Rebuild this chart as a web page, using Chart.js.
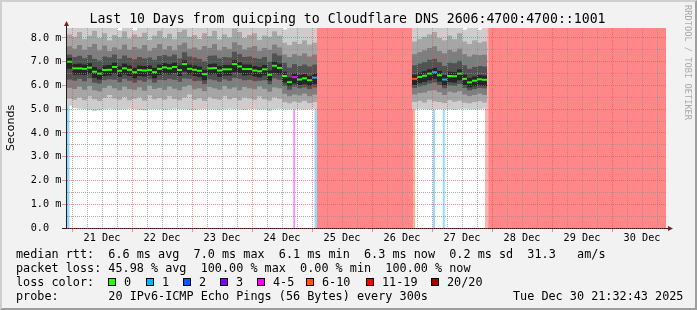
<!DOCTYPE html>
<html><head><meta charset="utf-8">
<script src="https://cdn.jsdelivr.net/npm/chart.js@4"></script>
<style>
html,body{margin:0;padding:0;background:#f2f2f2;}
#wrap{position:relative;width:697px;height:310px;overflow:hidden;background:#f2f2f2;font-family:'DejaVu Sans Mono',monospace;}
#c{position:absolute;left:0;top:0;}
.frame{position:absolute;left:0;top:0;width:697px;height:310px;box-sizing:border-box;border-style:solid;border-width:2px;border-color:#cfcfcf #9e9e9e #9e9e9e #cfcfcf;pointer-events:none;}
.row{position:absolute;font-size:11.8px;line-height:14px;white-space:pre;color:#000;}
.box{position:absolute;width:8px;height:8px;box-sizing:border-box;border:1px solid #000;}
.vt{position:absolute;left:683px;top:5px;writing-mode:vertical-rl;font-size:8.7px;line-height:10px;color:#aaaaaa;white-space:pre;}
#title{position:absolute;left:-1px;top:11px;width:697px;text-align:center;font-size:13.2px;line-height:16px;color:#000;white-space:pre;}
</style></head>
<body>
<div id="wrap">
<canvas id="c" width="697" height="310"></canvas>
<div class="frame"></div>
<div id="title"></div>
<div class="vt">RRDTOOL / TOBI OETIKER</div>
<div id="legend"></div>
</div>
<script>
// ---------- data ----------
const titleText = 'Last 10 Days from quicping to Cloudflare DNS 2606:4700:4700::1001';
const dayLabels = ['21 Dec','22 Dec','23 Dec','24 Dec','25 Dec','26 Dec','27 Dec','28 Dec','29 Dec','30 Dec'];
const yGridValues = [0,0.5,1,1.5,2,2.5,3,3.5,4,4.5,5,5.5,6,6.5,7,7.5,8];
const yTickLabels = ['0.0  ','1.0 m','2.0 m','3.0 m','4.0 m','5.0 m','6.0 m','7.0 m','8.0 m'];

// hours since 21 Dec 00:00 (centre of each 2h sample)
const hours = [-1,1,3,5,7,9,11,13,15,17,19,21,23,25,27,29,31,33,35,37,39,41,43,45,47,49,51,53,55,57,59,61,63,65,67,69,71,73,75,77,79,81,83,85,87,89,91,93,95,97,
               137,139,141,143,145,147,149,151,153,155,157,159,161,163,165];
// median rtt (ms)
const median = [7.00,6.72,6.72,6.70,6.75,6.58,6.50,6.65,6.66,6.78, 6.62,6.72,6.66,6.56,6.65,6.63,6.65,6.56,6.70,6.76,
                6.72,6.78,6.65,6.90,6.70,6.66,6.62,6.48,6.72,6.73, 6.63,6.68,6.68,6.90,6.80,6.69,6.69,6.63,6.60,6.68,
                6.45,6.83,6.74,6.40,6.14,6.35,6.25,6.30,6.22,6.33,
                6.28,6.36,6.41,6.50,6.56,6.43,6.25,6.40,6.39,6.50,6.28,6.13,6.20,6.26,6.24];
// packets lost (of 20) at each median sample
const medianLoss = [0,0,0,0,0,0,0,0,0,0, 0,0,0,0,0,0,0,0,0,0, 0,0,0,0,0,0,0,0,0,0, 0,0,0,0,0,0,0,0,0,0,
                    0,0,0,0,0,4,0,0,0,1,
                    6,0,0,0,1,0,1,0,0,0,0,0,0,0,0];
// smoke (ping distribution) bands, ms
const smokeMin = [5.15,5.05,5.02,5.00,4.98,4.93,4.96,5.00,5.02,5.00, 4.98,5.00,5.02,5.00,4.97,4.95,5.00,5.01,5.00,4.98,
                  5.00,5.02,5.00,5.00,4.98,4.96,5.00,5.01,5.00,5.00, 4.98,5.00,5.02,5.00,5.00,4.97,5.00,5.01,4.99,5.00,
                  4.94,5.00,5.02,5.00,5.00,5.01,5.00,4.98,5.00,5.02,
                  5.00,5.02,5.00,4.98,5.00,5.01,5.00,5.00,4.97,5.00,5.02,5.00,4.99,5.00,5.03];
const smokeMax = [8.7,8.7,8.7,8.6,8.7,8.7,8.7,8.7,8.7,8.7, 8.32,8.7,8.7,8.32,8.7,8.7,8.7,8.7,8.7,8.7,
                  8.7,8.7,8.7,8.7,8.7,8.7,8.7,8.7,8.7,8.7, 8.7,8.7,8.7,8.7,8.7,8.7,8.7,8.7,8.7,8.7,
                  8.7,8.7,8.7,8.36,8.7,8.7,8.7,8.7,8.7,8.7,
                  8.7,8.7,8.7,8.7,8.7,8.7,8.7,8.7,8.7,8.7,8.35,8.7,8.7,8.35,8.7];
const band2Lo = [5.45,5.40,5.50,5.38,5.55,5.42,5.35,5.48,5.60,5.45, 5.40,5.52,5.38,5.44,5.50,5.36,5.58,5.42,5.47,5.40,
                 5.55,5.43,5.38,5.50,5.62,5.40,5.46,5.35,5.52,5.44, 5.40,5.56,5.42,5.48,5.38,5.50,5.45,5.40,5.54,5.42,
                 5.36,5.50,5.44,5.30,5.25,5.32,5.28,5.35,5.26,5.30,
                 5.30,5.35,5.28,5.40,5.33,5.30,5.26,5.38,5.32,5.36,5.28,5.25,5.30,5.34,5.28];
const band2Hi = [8.15,8.05,8.25,7.95,8.10,8.30,8.00,8.20,7.90,8.12, 8.02,8.28,7.98,8.15,8.05,8.22,7.92,8.10,8.30,8.00,
                 8.18,7.95,8.25,8.35,8.05,8.12,7.96,8.20,8.08,8.30, 7.94,8.15,8.02,8.40,8.25,8.00,8.12,8.20,7.92,8.10,
                 8.05,8.28,8.10,7.80,7.70,7.85,7.75,7.90,7.72,7.80,
                 7.85,7.95,8.05,8.15,8.25,8.00,7.90,8.10,7.95,8.20,7.85,7.75,7.90,7.80,7.85];
const band3Lo = [5.90,5.85,5.95,5.82,5.98,5.80,5.75,5.90,6.00,5.88, 5.80,5.95,5.85,5.82,5.92,5.78,6.00,5.85,5.90,5.82,
                 5.96,5.86,5.80,5.95,6.02,5.84,5.88,5.76,5.94,5.88, 5.82,5.98,5.86,5.92,5.80,5.94,5.88,5.84,5.96,5.86,
                 5.74,5.92,5.88,5.65,5.55,5.62,5.58,5.66,5.55,5.62,
                 5.62,5.68,5.70,5.78,5.80,5.72,5.60,5.74,5.70,5.76,5.62,5.55,5.60,5.66,5.60];
const band3Hi = [7.65,7.55,7.70,7.50,7.62,7.75,7.48,7.68,7.45,7.60, 7.52,7.72,7.50,7.62,7.55,7.70,7.46,7.58,7.74,7.52,
                 7.66,7.48,7.70,7.80,7.55,7.60,7.50,7.66,7.58,7.74, 7.48,7.62,7.54,7.82,7.70,7.52,7.60,7.66,7.46,7.58,
                 7.50,7.72,7.60,7.30,7.20,7.32,7.25,7.35,7.22,7.30,
                 7.32,7.40,7.48,7.58,7.65,7.45,7.35,7.50,7.42,7.55,7.32,7.22,7.30,7.28,7.30];
const band4Lo = [6.25,6.20,6.28,6.18,6.30,6.12,6.08,6.22,6.26,6.24, 6.14,6.28,6.20,6.12,6.22,6.16,6.26,6.12,6.24,6.22,
                 6.28,6.24,6.16,6.30,6.28,6.18,6.20,6.06,6.26,6.22, 6.16,6.26,6.20,6.32,6.28,6.22,6.24,6.18,6.20,6.22,
                 6.05,6.30,6.24,5.98,5.82,5.95,5.88,5.92,5.85,5.92,
                 5.90,5.96,6.00,6.08,6.12,6.02,5.88,6.00,5.98,6.06,5.90,5.80,5.85,5.90,5.88];
const band4Hi = [7.30,7.20,7.25,7.15,7.28,7.12,7.05,7.22,7.18,7.30, 7.12,7.26,7.16,7.10,7.20,7.14,7.18,7.08,7.24,7.28,
                 7.22,7.30,7.14,7.40,7.22,7.18,7.12,7.02,7.25,7.26, 7.14,7.20,7.18,7.42,7.32,7.20,7.22,7.16,7.12,7.20,
                 7.00,7.35,7.26,6.95,6.75,6.90,6.82,6.88,6.80,6.88,
                 6.85,6.92,6.98,7.08,7.12,6.98,6.82,6.96,6.94,7.04,6.85,6.70,6.78,6.82,6.80];
const band5Lo = [6.70,6.45,6.46,6.44,6.48,6.32,6.25,6.40,6.42,6.50, 6.36,6.46,6.40,6.30,6.40,6.38,6.42,6.30,6.44,6.50,
                 6.46,6.52,6.40,6.58,6.46,6.40,6.36,6.22,6.46,6.48, 6.36,6.42,6.42,6.55,6.52,6.42,6.44,6.38,6.34,6.42,
                 6.20,6.52,6.46,6.12,5.98,6.08,6.02,6.05,5.98,6.06,
                 6.02,6.10,6.15,6.22,6.28,6.16,6.00,6.14,6.12,6.22,6.02,5.92,5.96,6.00,5.98];
const band5Hi = [7.16,6.90,6.92,6.88,6.94,6.78,6.68,6.84,6.86,6.96, 6.80,6.92,6.84,6.74,6.84,6.82,6.84,6.74,6.88,6.94,
                 6.90,6.96,6.84,7.06,6.88,6.84,6.80,6.66,6.90,6.92, 6.82,6.86,6.86,7.06,6.98,6.88,6.88,6.82,6.78,6.86,
                 6.64,7.00,6.92,6.58,6.34,6.52,6.44,6.48,6.40,6.50,
                 6.46,6.54,6.60,6.68,6.74,6.62,6.44,6.58,6.56,6.68,6.46,6.32,6.38,6.44,6.42];
// packet-loss periods (hours) and loss level
const lossStart = [-2, 88.5, 97, 98,    136.5, 144.3, 148.3, 165.2, 166.5];
const lossEnd   = [-1, 89.2, 98, 136.5, 137.2, 145.2, 149.1, 166.5, 237.6];
const lossLevel = [1,  4,    1,  20,    6,     1,     1,     11,    20];
// legend
const lossLabels = ['0','1','2','3','4-5','6-10','11-19','20/20'];
const lossKeys   = [0,1,2,3,4,6,11,20];
const legendRows = [
  'median rtt:  6.6 ms avg  7.0 ms max  6.1 ms min  6.3 ms now  0.2 ms sd  31.3   am/s',
  'packet loss: 45.98 % avg  100.00 % max  0.00 % min  100.00 % now',
  'loss color:',
  'probe:       20 IPv6-ICMP Echo Pings (56 Bytes) every 300s'
];
const stampText = 'Tue Dec 30 21:32:43 2025';

// ---------- styles ----------
const lossColor = {0:'#26ff00',1:'#00b8ff',2:'#0059ff',3:'#7e00ff',4:'#ff00ff',6:'#ff5500',11:'#ff0000',20:'#a10000'};
const lossFill  = {1:'rgba(0,184,255,0.45)',4:'rgba(255,0,255,0.45)',6:'rgba(255,85,0,0.45)',11:'rgba(255,0,0,0.3)',20:'rgba(255,0,0,0.47)'};
const smokeColors = ['#cdcdcd','#a6a6a6','#7e7e7e','#525252','#262626'];
const MAJOR = 'rgba(222,79,79,0.6)', MINOR = 'rgba(143,143,143,0.75)', CLEAR = 'rgba(0,0,0,0)';
const MONO = "'DejaVu Sans Mono', monospace";
const medHalf = 0.042;

// ---------- html text ----------
document.getElementById('title').textContent = titleText;
const leg = document.getElementById('legend');
function addText(txt, left, top){ const d=document.createElement('div'); d.className='row'; d.style.left=left+'px'; d.style.top=top+'px'; d.textContent=txt; leg.appendChild(d); }
legendRows.forEach((t,i)=>addText(t,16,247+14*i));
addText(stampText,513,289);
const boxLeft = [108,146,183,220,257,306,366,431];
lossLabels.forEach((t,i)=>{
  const b=document.createElement('div'); b.className='box'; b.style.left=boxLeft[i]+'px'; b.style.top='278px'; b.style.background=lossColor[lossKeys[i]]; leg.appendChild(b);
  addText(t, boxLeft[i]+16, 275);
});

// ---------- chart ----------
const band = (lo,hi) => hours.map((h,i)=>({x:h, y:[lo[i],hi[i]]}));
const datasets = [
  {data: hours.map((h,i)=>({x:h, y:[median[i]-medHalf, median[i]+medHalf]})), backgroundColor: medianLoss.map(l=>lossColor[l]), order:0},
  {data: band(band5Lo,band5Hi), backgroundColor: smokeColors[4], order:1},
  {data: band(band4Lo,band4Hi), backgroundColor: smokeColors[3], order:2},
  {data: band(band3Lo,band3Hi), backgroundColor: smokeColors[2], order:3},
  {data: band(band2Lo,band2Hi), backgroundColor: smokeColors[1], order:4},
  {data: band(smokeMin,smokeMax), backgroundColor: smokeColors[0], order:5}
].map(d=>Object.assign({grouped:false, barPercentage:1, categoryPercentage:1, borderWidth:0, inflateAmount:0}, d));

const xGridHours = dayLabels.flatMap((_,d)=>[24*d, 24*d+6, 24*d+12, 24*d+18]);

const canvasBg = { id:'canvasBg', beforeDraw(chart){ const {ctx, chartArea:a}=chart; ctx.save(); ctx.fillStyle='#ffffff'; ctx.fillRect(a.left,a.top,a.width,a.height); ctx.restore(); } };
const lossBands = { id:'lossBands', beforeDatasetsDraw(chart){
  const {ctx, chartArea:a, scales:{x}} = chart;
  ctx.save(); ctx.beginPath(); ctx.rect(a.left,a.top,a.width,a.height); ctx.clip();
  lossStart.forEach((s,i)=>{ const x1=x.getPixelForValue(s), x2=x.getPixelForValue(lossEnd[i]); ctx.fillStyle=lossFill[lossLevel[i]]; ctx.fillRect(x1,a.top,x2-x1,a.height); });
  ctx.restore(); } };
const axisExtras = { id:'axisExtras', afterDraw(chart){
  const {ctx, chartArea:a} = chart;
  ctx.save(); ctx.strokeStyle='#1f1f1f'; ctx.lineWidth=1; ctx.beginPath();
  ctx.moveTo(a.left+0.5, a.top); ctx.lineTo(a.left+0.5, a.top-3);
  ctx.moveTo(a.left-4, a.bottom+0.5); ctx.lineTo(a.left, a.bottom+0.5);
  ctx.moveTo(a.right, a.bottom+0.5); ctx.lineTo(a.right+3, a.bottom+0.5);
  ctx.stroke();
  ctx.fillStyle='#801f1f';
  ctx.beginPath(); ctx.moveTo(a.left-2, a.top-2); ctx.lineTo(a.left+3, a.top-2); ctx.lineTo(a.left+0.5, a.top-7); ctx.closePath(); ctx.fill();
  ctx.beginPath(); ctx.moveTo(a.right+2, a.bottom-2); ctx.lineTo(a.right+2, a.bottom+3); ctx.lineTo(a.right+7, a.bottom+0.5); ctx.closePath(); ctx.fill();
  ctx.restore(); } };

new Chart(document.getElementById('c'), {
  type:'bar',
  data:{datasets},
  plugins:[canvasBg, lossBands, axisExtras],
  options:{
    responsive:false, animation:false, devicePixelRatio:1,
    layout:{padding:{left:0,right:31,top:28,bottom:0}},
    plugins:{ legend:{display:false}, tooltip:{enabled:false}, title:{display:false} },
    scales:{
      x:{type:'linear', min:-2.4, max:237.6, offset:false,
         afterBuildTicks:s=>{ s.ticks = xGridHours.map(v=>({value:v})); },
         afterFit:s=>{ s.height = 82; },
         grid:{offset:false, z:1, lineWidth:1, drawTicks:true, tickLength:4,
               color:c=>(c.tick && c.tick.value%24===0) ? MAJOR : MINOR,
               tickColor:c=>(c.tick && c.tick.value%24===0) ? MAJOR : CLEAR},
         border:{z:1, color:'#1f1f1f', width:1, dash:[1,1]},
         ticks:{autoSkip:false, maxRotation:0, minRotation:0, padding:0, color:'#000', font:{family:MONO, size:10.2},
                callback:v=> (v%24===12) ? dayLabels[(v-12)/24] : ''}
      },
      y:{type:'linear', min:0, max:8.42,
         afterBuildTicks:s=>{ s.ticks = yGridValues.map(v=>({value:v})); },
         afterFit:s=>{ s.width = 66; },
         grid:{z:1, lineWidth:1, drawTicks:true, tickLength:4,
               color:c=>(c.tick && Number.isInteger(c.tick.value)) ? MAJOR : MINOR,
               tickColor:c=>(c.tick && Number.isInteger(c.tick.value)) ? MAJOR : CLEAR},
         border:{z:1, color:'#1f1f1f', width:1, dash:[1,1]},
         ticks:{autoSkip:false, padding:0.6, color:'#000', font:{family:MONO, size:10.2},
                callback:v=> Number.isInteger(v) ? yTickLabels[v] : ''},
         title:{display:true, text:'Seconds', color:'#000', font:{family:"'DejaVu Sans', sans-serif", size:11}, padding:{top:4.4,bottom:0}}
      }
    }
  }
});
</script>
</body></html>
